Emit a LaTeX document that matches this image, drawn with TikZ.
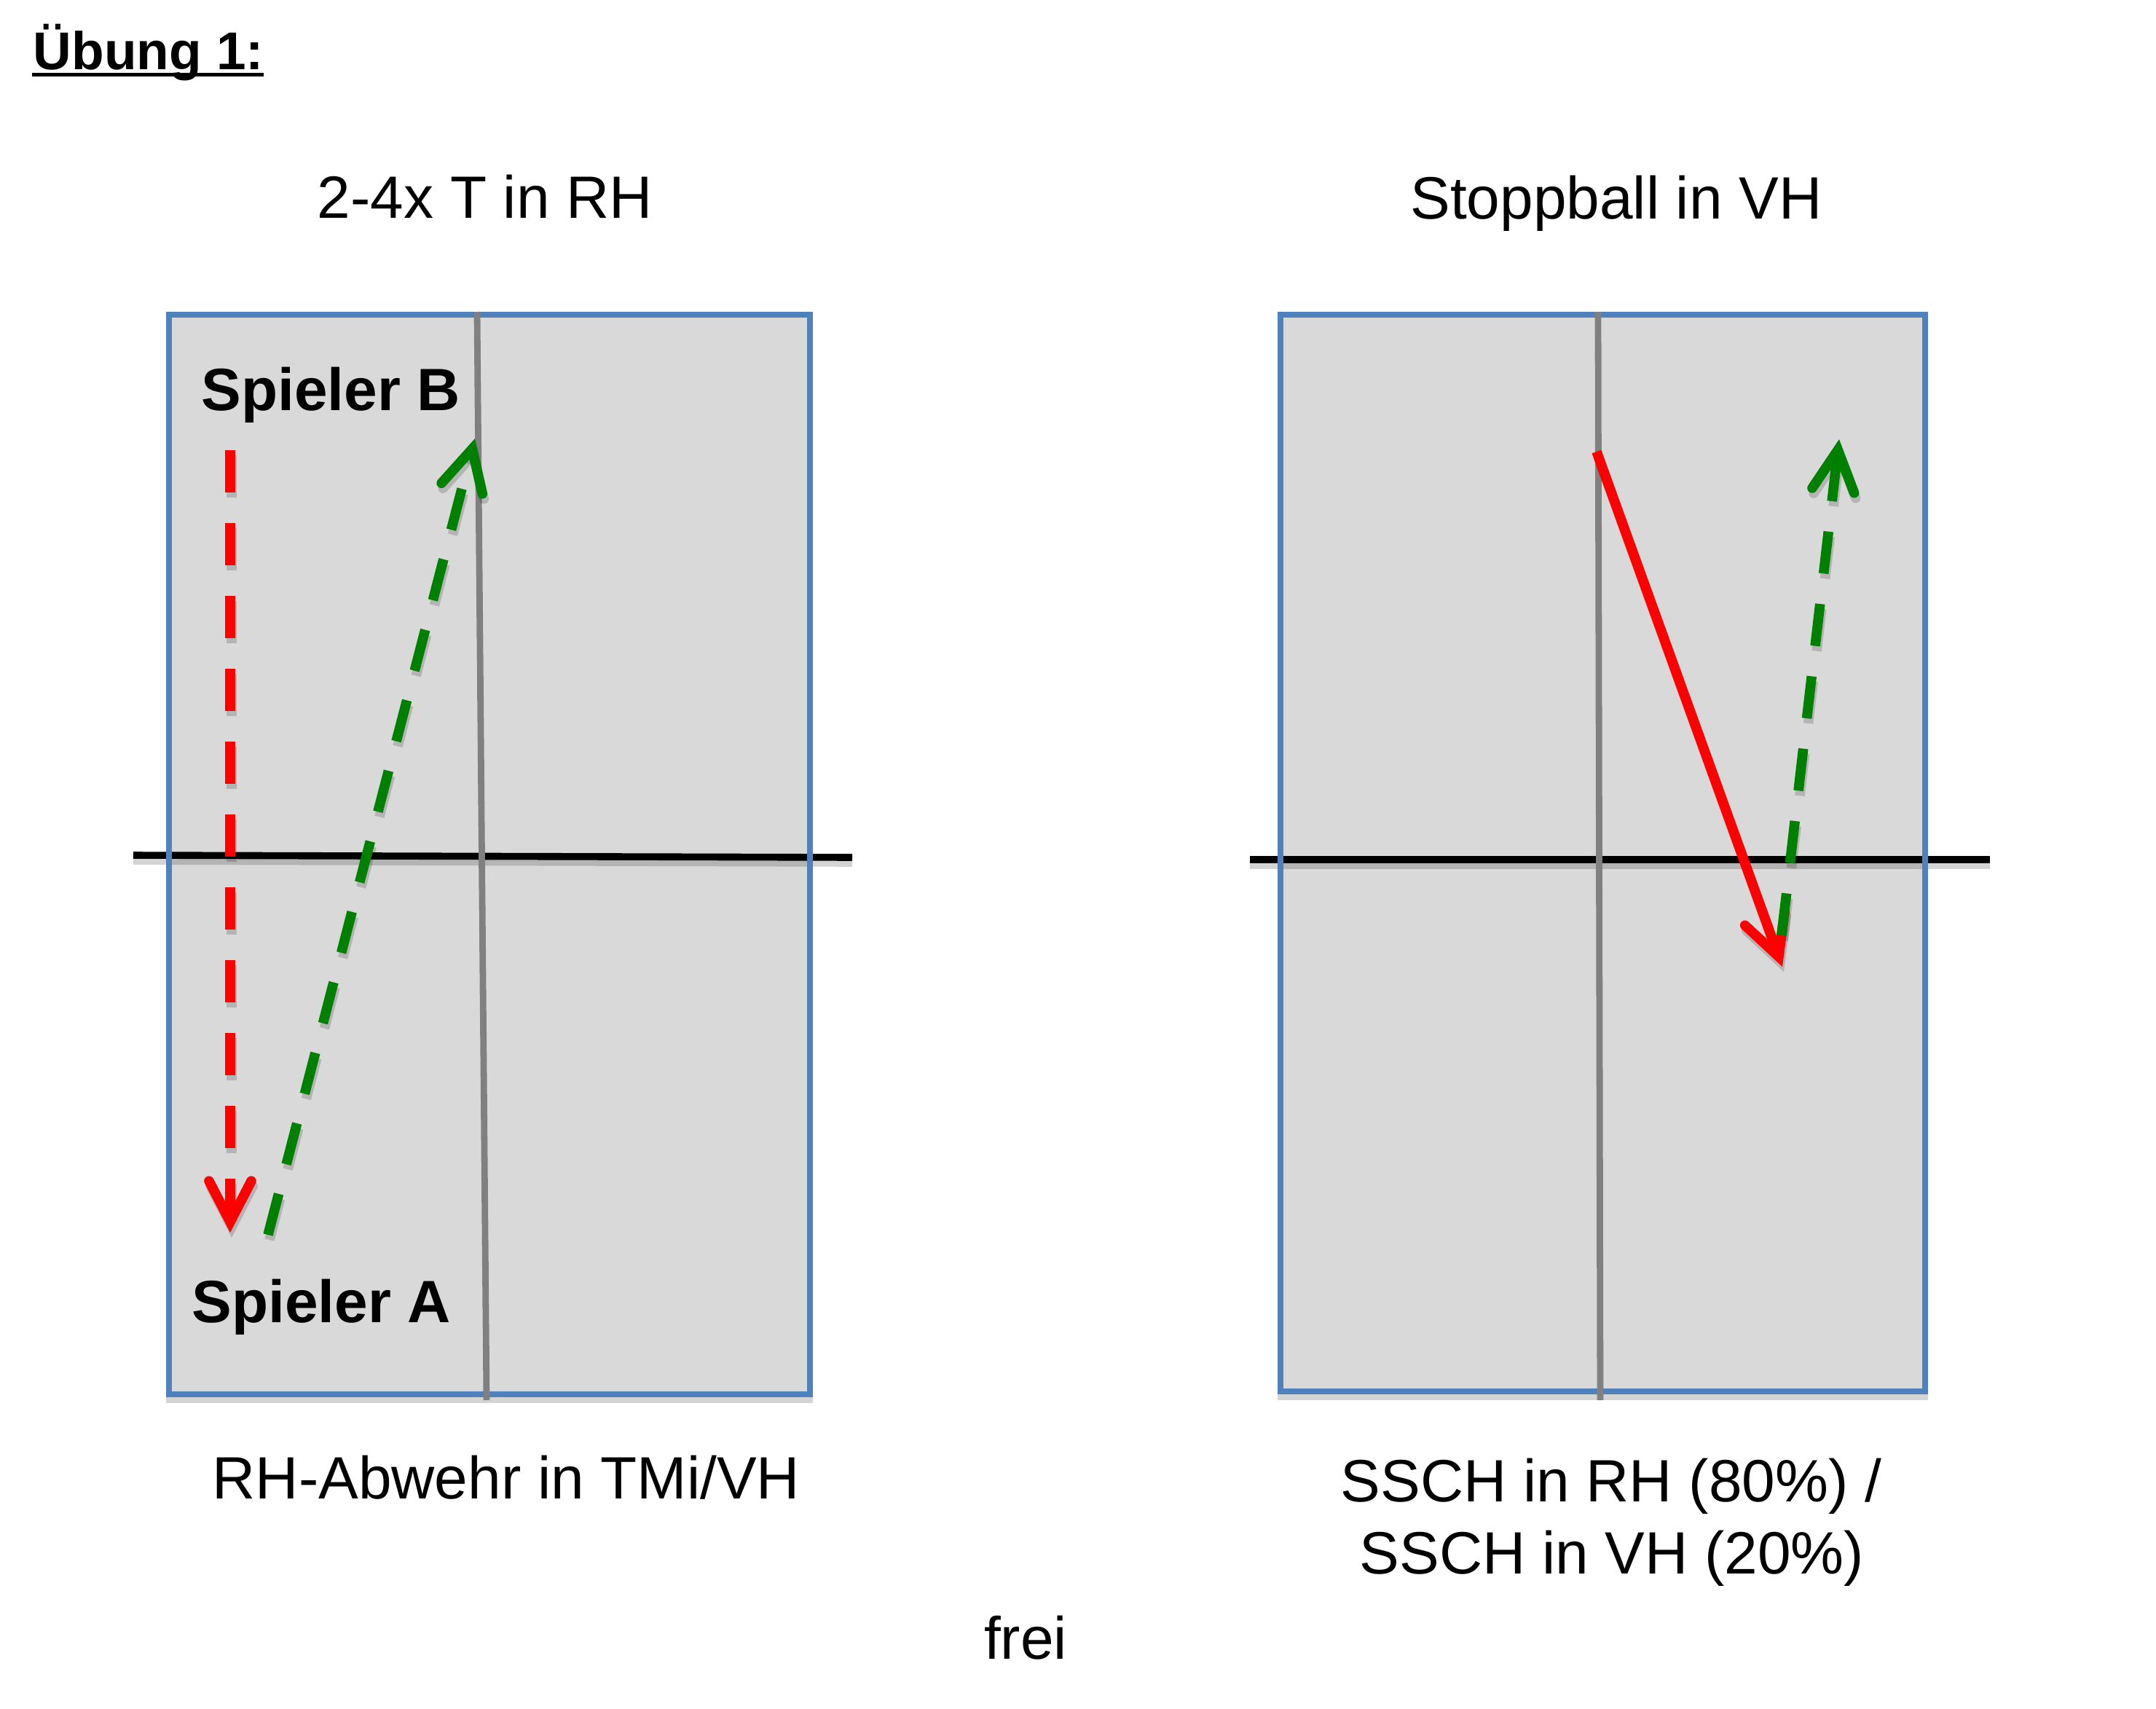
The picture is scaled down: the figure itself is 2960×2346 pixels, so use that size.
\documentclass[tikz,border=0pt]{standalone}
\usepackage{fontspec}
\setmainfont{Liberation Sans}
\usetikzlibrary{arrows.meta}
\definecolor{tblfill}{HTML}{D9D9D9}
\definecolor{tblblue}{HTML}{4F81BD}
\definecolor{midgray}{HTML}{808080}
\definecolor{pgreen}{HTML}{008000}
\definecolor{pred}{HTML}{FF0000}
\begin{document}
\begin{tikzpicture}[x=0.25pt,y=-0.25pt,
  txt/.style={inner sep=0pt, font=\fontsize{20.5pt}{24pt}\selectfont},
  boldtxt/.style={inner sep=0pt, font=\fontsize{20.5pt}{24pt}\selectfont\bfseries},
  titletxt/.style={inner sep=0pt, font=\fontsize{18.25pt}{22pt}\selectfont\bfseries},
  tablefill/.style={fill=tblfill, draw=none},
  tborder/.style={draw=tblblue, line width=2.1pt},
  netline/.style={draw=black, line width=2.4pt},
  midline/.style={draw=midgray, line width=2.2pt},
  tshadow/.style={fill=black, fill opacity=0.17, draw=none, transform canvas={shift={(0,8)}}},
  nshadow/.style={draw=black, draw opacity=0.17, transform canvas={shift={(0,8)}}},
  ashadow/.style={draw=black, draw opacity=0.17, transform canvas={shift={(2,7)}}},
  ballpath/.style={line width=3.4pt, -{Straight Barb[length=14pt,width=14.5pt,line cap=round,line join=miter]}},
  dashedpath/.style={ballpath, dash pattern=on 14.5pt off 10.5pt},
]
\useasboundingbox (0,0) rectangle (2960,2346);
\fill[white] (0,0) rectangle (2960,2346);

% title
\node[titletxt, anchor=base west] (title) at (45,95) {Übung 1:};
\coordinate (ulA) at (44,102);
\coordinate (ulB) at (362,102);
\draw[line width=1.25pt] (ulA) -- (ulB);

% headings
\node[txt, anchor=base] (h1) at (666,299) {2-4x T in RH};
\node[txt, anchor=base] (h2) at (2219,300) {Stoppball in VH};

% ---------- left table ----------
\fill[tshadow] (228,428) rectangle (1116,1918);
\fill[tablefill] (232,432) rectangle (1112,1914);
\coordinate (lnA) at (183,1174);
\coordinate (lnB) at (1170,1177);
\draw[netline, nshadow] (lnA) -- (lnB);
\draw[netline] (lnA) -- (lnB);
\draw[tborder] (232,432) rectangle (1112,1914);
\coordinate (lmA) at (655,428);
\coordinate (lmB) at (668,1922);
\draw[midline] (lmA) -- (lmB);

% ---------- right table ----------
\fill[tshadow] (1754,428) rectangle (2647,1914);
\fill[tablefill] (1758,432) rectangle (2643,1910);
\coordinate (rnA) at (1716,1180);
\coordinate (rnB) at (2732,1180);
\draw[netline, nshadow] (rnA) -- (rnB);
\draw[netline] (rnA) -- (rnB);
\draw[tborder] (1758,432) rectangle (2643,1910);
\coordinate (rmA) at (2194,428);
\coordinate (rmB) at (2197,1922);
\draw[midline] (rmA) -- (rmB);

% players
\node[boldtxt, anchor=base west] (pB) at (276,563) {Spieler B};
\node[boldtxt, anchor=base west] (pA) at (263,1815) {Spieler A};

% ---------- left arrows ----------
\coordinate (r1s) at (316,618);
\coordinate (r1e) at (316,1692);
\coordinate (g1s) at (368,1695);
\coordinate (g1e) at (652,602);
\draw[dashedpath, ashadow] (r1s) -- (r1e);
\draw[dashedpath, ashadow] (g1s) -- (g1e);
\draw[dashedpath, draw=pred] (r1s) -- (r1e);
\draw[dashedpath, draw=pgreen] (g1s) -- (g1e);

% ---------- right arrows ----------
\coordinate (r2s) at (2192,620);
\coordinate (r2e) at (2447,1327);
\coordinate (g2s) at (2446,1284);
\coordinate (g2e) at (2525,603);
\draw[ballpath, ashadow] (r2s) -- (r2e);
\draw[dashedpath, ashadow] (g2s) -- (g2e);
\draw[ballpath, draw=pred] (r2s) -- (r2e);
\draw[dashedpath, draw=pgreen] (g2s) -- (g2e);

% captions
\node[txt, anchor=base] (c1) at (695,2057) {RH-Abwehr in TMi/VH};
\node[txt, anchor=base] (c2a) at (2212,2061) {SSCH in RH (80\%) /};
\node[txt, anchor=base] (c2b) at (2213,2160) {SSCH in VH (20\%)};
\node[txt, anchor=base] (frei) at (1408,2277) {frei};
\end{tikzpicture}
\end{document}
